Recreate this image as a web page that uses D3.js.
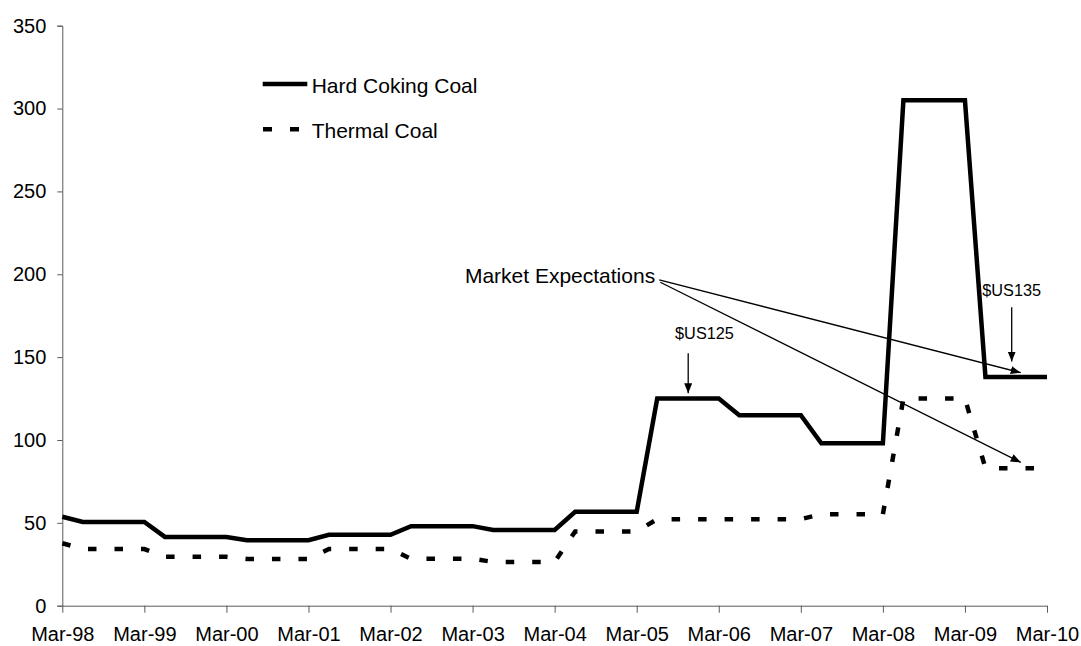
<!DOCTYPE html>
<html><head><meta charset="utf-8">
<script src="https://cdn.jsdelivr.net/npm/d3@7"></script>
<style>body{margin:0;background:#fff}svg{display:block}text{font-family:"Liberation Sans",Arial,sans-serif;fill:#000}</style>
</head><body><svg id="c" width="1081" height="646"></svg>
<script>
// ---------- data ----------
const quarters = [
  "Mar-98","Jun-98","Sep-98","Dec-98","Mar-99","Jun-99","Sep-99","Dec-99",
  "Mar-00","Jun-00","Sep-00","Dec-00","Mar-01","Jun-01","Sep-01","Dec-01",
  "Mar-02","Jun-02","Sep-02","Dec-02","Mar-03","Jun-03","Sep-03","Dec-03",
  "Mar-04","Jun-04","Sep-04","Dec-04","Mar-05","Jun-05","Sep-05","Dec-05",
  "Mar-06","Jun-06","Sep-06","Dec-06","Mar-07","Jun-07","Sep-07","Dec-07",
  "Mar-08","Jun-08","Sep-08","Dec-08","Mar-09","Jun-09","Sep-09","Dec-09",
  "Mar-10"
];
const tickLabels = ["Mar-98","Mar-99","Mar-00","Mar-01","Mar-02","Mar-03","Mar-04",
  "Mar-05","Mar-06","Mar-07","Mar-08","Mar-09","Mar-10"];
const yTicks = [0,50,100,150,200,250,300,350];

const hardCoking = [
  53.7,
  50.5,50.5,50.5,50.5,
  41.5,41.5,41.5,41.5,
  39.5,39.5,39.5,39.5,
  42.8,42.8,42.8,42.8,
  48.0,48.0,48.0,48.0,
  45.7,45.7,45.7,45.7,
  56.7,56.7,56.7,56.7,
  125,125,125,125,
  115,115,115,115,
  98,98,98,98,
  305,305,305,305,
  138,138,138,138
];
const thermal = [
  37.7,
  34.2,34.2,34.2,34.2,
  29.5,29.5,29.5,29.5,
  28.2,28.2,28.2,28.2,
  34.2,34.2,34.2,34.2,
  28.3,28.3,28.3,28.3,
  26.4,26.4,26.4,26.4,
  44.8,44.8,44.8,44.8,
  52.2,52.2,52.2,52.2,
  52.2,52.2,52.2,52.2,
  55.2,55.2,55.2,55.2,
  125,125,125,125,
  83,83,83,83
];
const seriesNames = ["Hard Coking Coal","Thermal Coal"];

// annotations in data units (quarter index, value)
const marketLabel = {text:"Market Expectations", i:28.9, v:194.6};
const marketArrows = [
  {i0:29.1, v0:196.6, i1:46.72, v1:140.6},
  {i0:29.15, v0:195.2, i1:46.72, v1:86.5}
];
const priceLabels = [
  {text:"$US125", ti:29.87, tv:161.0, anchor:"start", ai:30.51, av0:152.3, av1:128.2},
  {text:"$US135", ti:46.28, tv:187.1, anchor:"middle", ai:46.28, av0:180.1, av1:147.3}
];

// ---------- chart ----------
const svg = d3.select("#c");
svg.append("rect").attr("width",1081).attr("height",646).attr("fill","#fff");

const x = d3.scalePoint().domain(quarters).range([62.3,1047]);
const xi = d3.scaleLinear().domain([0,quarters.length-1]).range([62.3,1047]);
const y = d3.scaleLinear().domain([0,350]).range([605.7,25.7]);

const axisColor = "#5a5a5a";

const gy = svg.append("g").attr("transform","translate(62.3,0)")
  .call(d3.axisLeft(y).tickValues(yTicks).tickSize(5).tickPadding(11));
gy.select(".domain").attr("stroke",axisColor).attr("stroke-width",1);
gy.selectAll(".tick line").attr("stroke",axisColor);
gy.selectAll(".tick text").attr("font-size",20).attr("fill","#000")
  .attr("font-family","Liberation Sans, Arial, sans-serif");

const gx = svg.append("g").attr("transform","translate(0,605.7)")
  .call(d3.axisBottom(x).tickValues(tickLabels).tickSize(7).tickSizeOuter(0));
gx.select(".domain").attr("stroke",axisColor).attr("stroke-width",1);
gx.selectAll(".tick line").attr("stroke",axisColor);
gx.selectAll(".tick text").attr("font-size",20).attr("fill","#000")
  .attr("font-family","Liberation Sans, Arial, sans-serif")
  .attr("y",35.3).attr("dy",0);

const line = d3.line().x((d,i)=>x(quarters[i])).y(d=>y(d));

svg.append("path").datum(hardCoking).attr("d",line)
  .attr("fill","none").attr("stroke","#000").attr("stroke-width",4.5)
  .attr("stroke-linejoin","miter");
svg.append("path").datum(thermal).attr("d",line)
  .attr("fill","none").attr("stroke","#000").attr("stroke-width",4.5)
  .attr("stroke-dasharray","8.5,18");

// legend
const lg = svg.append("g");
lg.append("line").attr("x1",262.7).attr("x2",307.3).attr("y1",84).attr("y2",84)
  .attr("stroke","#000").attr("stroke-width",4.5);
lg.append("text").attr("x",311.7).attr("y",93.3).attr("font-size",21).text(seriesNames[0]);
lg.append("line").attr("x1",263).attr("x2",299).attr("y1",129.3).attr("y2",129.3)
  .attr("stroke","#000").attr("stroke-width",4.5).attr("stroke-dasharray","9,18");
lg.append("text").attr("x",311.7).attr("y",138.3).attr("font-size",21).text(seriesNames[1]);

// arrow markers
const defs = svg.append("defs");
defs.append("marker").attr("id","ah").attr("markerUnits","userSpaceOnUse")
  .attr("markerWidth",11).attr("markerHeight",9).attr("refX",10).attr("refY",4)
  .attr("orient","auto")
  .append("path").attr("d","M0,0 L10,4 L0,8 Z").attr("fill","#000");

// annotations
svg.append("text").attr("x",xi(marketLabel.i)).attr("y",y(marketLabel.v))
  .attr("text-anchor","end").attr("font-size",21).text(marketLabel.text);
marketArrows.forEach(a=>{
  svg.append("line").attr("x1",xi(a.i0)).attr("y1",y(a.v0))
    .attr("x2",xi(a.i1)).attr("y2",y(a.v1))
    .attr("stroke","#000").attr("stroke-width",1.3).attr("marker-end","url(#ah)");
});
priceLabels.forEach(p=>{
  svg.append("text").attr("x",xi(p.ti)).attr("y",y(p.tv))
    .attr("text-anchor",p.anchor).attr("font-size",16.3).text(p.text);
  svg.append("line").attr("x1",xi(p.ai)).attr("y1",y(p.av0))
    .attr("x2",xi(p.ai)).attr("y2",y(p.av1))
    .attr("stroke","#000").attr("stroke-width",1.3).attr("marker-end","url(#ah)");
});
</script></body></html>
